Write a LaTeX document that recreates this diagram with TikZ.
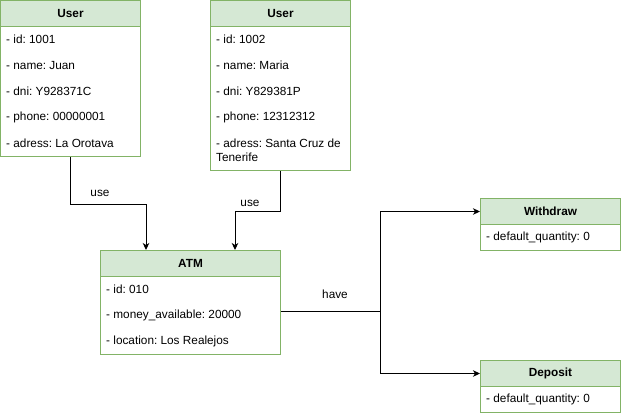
\documentclass[tikz,border=0pt]{standalone}
\usepackage{fontspec}
\setmainfont{Liberation Sans}
\usetikzlibrary{arrows.meta}
\definecolor{gfill}{HTML}{D5E8D4}
\definecolor{gline}{HTML}{82B366}
\frenchspacing
\begin{document}
\begin{tikzpicture}[x=1pt,y=-1pt,
  hdr/.style={draw=gline,fill=gfill,line width=1pt,anchor=north west,inner sep=0pt,font=\fontsize{11.8}{14}\selectfont\bfseries},
  bodybox/.style={draw=gline,fill=white,line width=1pt,anchor=north west,inner sep=0pt},
  row/.style={anchor=west,inner sep=0pt,font=\fontsize{11.8}{14}\selectfont,align=left},
  conn/.style={line width=1pt,-{Stealth[length=7pt,width=6.5pt,inset=2pt]}},
  plain/.style={line width=1pt},
  lbl/.style={inner sep=0pt,font=\fontsize{11.8}{14}\selectfont}]
\useasboundingbox (0,0) rectangle (621,416);
% User 1
\node[bodybox,minimum width=140pt,minimum height=156pt] (u1b) at (0,0) {};
\node[hdr,minimum width=140pt,minimum height=26pt] (u1h) at (0,0) {User};
\node[row] (u1r1) at (6,39.5) {- id: 1001};
\node[row] (u1r2) at (6,65.5) {- name: Juan};
\node[row] (u1r3) at (6,91.5) {- dni: Y928371C};
\node[row] (u1r4) at (6,117.5) {- phone: 00000001};
\node[row] (u1r5) at (6,143.5) {- adress: La Orotava};
% User 2
\node[bodybox,minimum width=140pt,minimum height=170pt] (u2b) at (210,0) {};
\node[hdr,minimum width=140pt,minimum height=26pt] (u2h) at (210,0) {User};
\node[row] (u2r1) at (216,39.5) {- id: 1002};
\node[row] (u2r2) at (216,65.5) {- name: Maria};
\node[row] (u2r3) at (216,91.5) {- dni: Y829381P};
\node[row] (u2r4) at (216,117.5) {- phone: 12312312};
\node[row] (u2r5) at (216,150.5) {- adress: Santa Cruz de\\Tenerife};
% ATM
\node[bodybox,minimum width=180pt,minimum height=104pt] (atmb) at (100,250) {};
\node[hdr,minimum width=180pt,minimum height=26pt] (atmh) at (100,250) {ATM};
\node[row] (atr1) at (106,289.5) {- id: 010};
\node[row] (atr2) at (106,315.5) {- money\_available: 20000};
\node[row] (atr3) at (106,341.5) {- location: Los Realejos};
% Withdraw
\node[bodybox,minimum width=140pt,minimum height=52pt] (wb) at (480,198) {};
\node[hdr,minimum width=140pt,minimum height=26pt] (wh) at (480,198) {Withdraw};
\node[row] (wr1) at (486,237.5) {- default\_quantity: 0};
% Deposit
\node[bodybox,minimum width=140pt,minimum height=52pt] (db) at (480,360) {};
\node[hdr,minimum width=140pt,minimum height=26pt] (dh) at (480,360) {Deposit};
\node[row] (dr1) at (486,399.5) {- default\_quantity: 0};
% connectors
\coordinate (a1) at ([xshift=46pt]atmh.north west);
\coordinate (a2) at ([xshift=135pt]atmh.north west);
\draw[conn] (u1b.south) -- ++(0,47) -| (a1);
\draw[conn] (u2b.south) -- ++(0,40) -| (a2);
\node[lbl] (use1) at (100,193) {use};
\node[lbl] (use2) at (250,203) {use};
\coordinate (hs) at ([yshift=-9pt]atmb.east);
\coordinate (jx) at (380,0);
\coordinate (jn) at (hs -| jx);
\draw[plain] (hs) -- (jn);
\draw[conn] (jn) |- (wh.west);
\draw[conn] (jn) |- (dh.west);
\node[lbl] (have) at (335,294) {have};
\end{tikzpicture}
\end{document}
